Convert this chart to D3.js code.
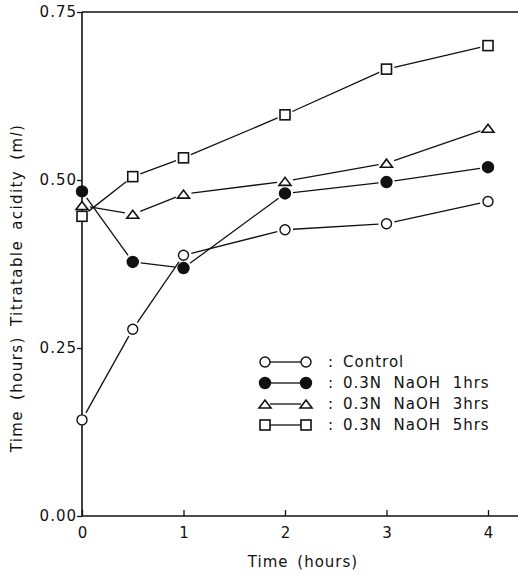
<!DOCTYPE html>
<html>
<head>
<meta charset="utf-8">
<script src="https://cdn.jsdelivr.net/npm/d3@7"></script>
<style>
  body { margin: 0; background: #fff; }
  svg { display: block; }
  text { font-family: "DejaVu Sans", sans-serif; fill: #111; }
</style>
</head>
<body>
<div class="chart"></div>
<script>
// data
const hours = [0, 0.5, 1, 2, 3, 4]
const control = [0.143, 0.278, 0.388, 0.426, 0.435, 0.468]
const naoh1 = [0.483, 0.378, 0.369, 0.480, 0.497, 0.519]
const naoh3 = [0.462, 0.449, 0.479, 0.498, 0.525, 0.577]
const naoh5 = [0.446, 0.505, 0.533, 0.597, 0.665, 0.700]
const seriesNames = ['Control', '0.3N  NaOH  1hrs', '0.3N  NaOH  3hrs', '0.3N  NaOH  5hrs']
const seriesMarks = ['circle', 'dot', 'triangle', 'square']
const xTicks = [0, 1, 2, 3, 4]
const yTicks = [0, 0.25, 0.5, 0.75]

let width = 518
let height = 575
var margin = {top: 12, right: 30, bottom: 59, left: 82}

let x = d3.scaleLinear()
  .domain([0, 4])
  .range([margin.left, width - margin.right])

let y = d3.scaleLinear()
  .domain([0, 0.75])
  .range([height - margin.bottom, margin.top])

const svg = d3.select('.chart').append('svg')
  .attr('width', width)
  .attr('height', height)
  .attr('viewBox', [0, 0, width, height])

// frame: left, top, bottom (no right side)
const frame = svg.append('g').attr('stroke', '#111').attr('stroke-width', 1.6)
frame.append('line').attr('x1', x(0)).attr('x2', x(0)).attr('y1', y(0.75)).attr('y2', y(0))
frame.append('line').attr('x1', x(0)).attr('x2', width).attr('y1', y(0.75)).attr('y2', y(0.75))
frame.append('line').attr('x1', x(0)).attr('x2', width).attr('y1', y(0)).attr('y2', y(0))

let yAxis = g => g
  .attr('transform', `translate(${margin.left},0)`)
  .call(d3.axisLeft(y).tickValues(yTicks).tickFormat(d3.format('.2f')).tickSize(5).tickPadding(0))
  .call(g => g.select('.domain').remove())
  .call(g => g.selectAll('.tick line').attr('stroke', '#111').attr('stroke-width', 1.3))
  .call(g => g.selectAll('.tick text').attr('font-size', 15).attr('letter-spacing', 1).attr('fill', '#111'))

let xAxis = g => g
  .attr('transform', `translate(0,${height - margin.bottom})`)
  .call(d3.axisBottom(x).tickValues(xTicks).tickFormat(d3.format('d')).tickSizeInner(-6).tickSizeOuter(0).tickPadding(11))
  .call(g => g.select('.domain').remove())
  .call(g => g.selectAll('.tick line').attr('stroke', '#111').attr('stroke-width', 1.3))
  .call(g => g.selectAll('.tick text').attr('font-size', 15).attr('fill', '#111'))

svg.append('g').call(yAxis)
svg.append('g').call(xAxis)

// axis titles
svg.append('text')
  .attr('x', 303)
  .attr('y', 567)
  .attr('text-anchor', 'middle')
  .attr('font-size', 15)
  .attr('letter-spacing', 1)
  .attr('word-spacing', 3)
  .text('Time (hours)')

const yTitle = svg.append('text')
  .attr('transform', 'translate(22,288) rotate(-90)')
  .attr('text-anchor', 'middle')
  .attr('font-size', 15)
  .attr('letter-spacing', 1.4)
  .attr('word-spacing', 4)
yTitle.append('tspan').text('Time (hours) Titratable acidity (m')
yTitle.append('tspan').attr('font-style', 'italic').text('l')
yTitle.append('tspan').text(')')

// marker drawing
function drawMark(g, kind, cx, cy) {
  if (kind === 'circle' || kind === 'dot') {
    g.append('circle').attr('cx', cx).attr('cy', cy).attr('r', kind === 'dot' ? 5.5 : 5)
      .attr('fill', kind === 'dot' ? '#111' : '#fff').attr('stroke', '#111').attr('stroke-width', 1.4)
  } else if (kind === 'square') {
    g.append('rect').attr('x', cx - 5).attr('y', cy - 5).attr('width', 10).attr('height', 10)
      .attr('fill', '#fff').attr('stroke', '#111').attr('stroke-width', 1.6)
  } else {
    g.append('path').attr('d', `M${cx - 6},${cy + 4}L${cx + 6},${cy + 4}L${cx},${cy - 4}Z`)
      .attr('fill', '#fff').attr('stroke', '#111').attr('stroke-width', 1.6)
  }
}

// segments stop short of the markers, like the original
function gapSegment(g, p, q, gap) {
  let dx = q[0] - p[0], dy = q[1] - p[1]
  let len = Math.hypot(dx, dy)
  if (len <= gap * 2) return
  let ux = dx / len, uy = dy / len
  g.append('line')
    .attr('x1', p[0] + ux * gap).attr('y1', p[1] + uy * gap)
    .attr('x2', q[0] - ux * gap).attr('y2', q[1] - uy * gap)
    .attr('stroke', '#111').attr('stroke-width', 1.3)
}

const allSeries = [control, naoh1, naoh3, naoh5]
allSeries.forEach((vals, i) => {
  const g = svg.append('g')
  const pts = vals.map((v, j) => [x(hours[j]), y(v)])
  for (let j = 1; j < pts.length; j++) gapSegment(g, pts[j - 1], pts[j], 8)
  pts.forEach(p => drawMark(g, seriesMarks[i], p[0], p[1]))
})

// legend
const legend = svg.append('g')
seriesNames.forEach((name, i) => {
  let ly = 362 + i * 21
  let lx0 = 265, lx1 = 306
  legend.append('line').attr('x1', lx0 + 5).attr('x2', lx1 - 5).attr('y1', ly).attr('y2', ly)
    .attr('stroke', '#111').attr('stroke-width', 1.3)
  drawMark(legend, seriesMarks[i], lx0, ly)
  drawMark(legend, seriesMarks[i], lx1, ly)
  legend.append('text').attr('x', 328).attr('y', ly).attr('dy', '0.35em')
    .attr('font-size', 15).text(':')
  legend.append('text').attr('x', 343).attr('y', ly).attr('dy', '0.35em')
    .attr('font-size', 15).attr('letter-spacing', 1).attr('xml:space', 'preserve')
    .style('white-space', 'pre').text(name)
})
</script>
</body>
</html>
